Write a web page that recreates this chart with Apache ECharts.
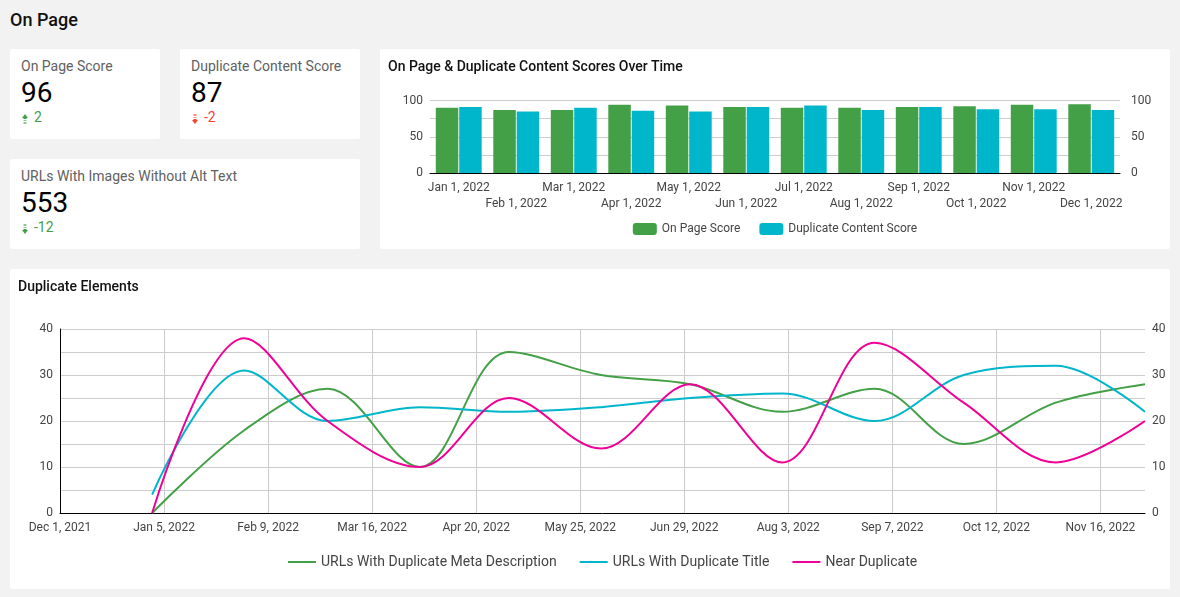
<!DOCTYPE html>
<html>
<head>
    <meta charset="utf-8">
    <style>
        html, body { margin: 0; padding: 0; }
        body {
            width: 1180px;
            height: 597px;
            position: relative;
            overflow: hidden;
            background: #f2f2f2;
            font-family: Roboto, sans-serif;
        }
        .card { position: absolute; background: #fff; border-radius: 2px; }
        .heading { position: absolute; left: 10px; top: 9px; font-size: 18px; line-height: 21px; font-weight: 500; color: #111; }
        .kpi-label { position: absolute; left: 11px; top: 9px; font-size: 14px; line-height: 16px; color: #616161; white-space: nowrap; }
        .kpi-value { position: absolute; left: 11px; top: 27px; font-size: 28px; line-height: 34px; font-weight: 400; color: #000; }
        .kpi-delta { position: absolute; left: 12px; top: 60px; font-size: 14px; line-height: 16px; white-space: nowrap; }
        .kpi-delta svg { width: 6px; height: 10px; margin-right: 6px; vertical-align: -2px; fill: currentColor; }
        .good { color: #43a047; }
        .bad { color: #f44336; }
        .chart-title { position: absolute; font-size: 14px; line-height: 16px; font-weight: 500; color: #111; z-index: 2; }
        .chart { position: absolute; left: 0; top: 0; width: 100%; height: 100%; }
    </style>
</head>
<body>
    <div class="heading">On Page</div>

    <div class="card" style="left:10px;top:49px;width:150px;height:90px">
        <div class="kpi-label">On Page Score</div>
        <div class="kpi-value">96</div>
        <div class="kpi-delta good"><svg viewBox="0 0 6 10"><path d="M3 0L6 4H4.5V5H1.5V4H0Z"/><path opacity="0.6" d="M1.5 6H4.5V7H1.5ZM1.5 8H4.5V10H1.5Z"/></svg>2</div>
    </div>
    <div class="card" style="left:180px;top:49px;width:180px;height:90px">
        <div class="kpi-label">Duplicate Content Score</div>
        <div class="kpi-value">87</div>
        <div class="kpi-delta bad"><svg viewBox="0 0 6 10"><path d="M3 10L0 6H1.5V5H4.5V6H6Z"/><path opacity="0.6" d="M1.5 4H4.5V3H1.5ZM1.5 2H4.5V0H1.5Z"/></svg>-2</div>
    </div>
    <div class="card" style="left:10px;top:159px;width:350px;height:90px">
        <div class="kpi-label">URLs With Images Without Alt Text</div>
        <div class="kpi-value">553</div>
        <div class="kpi-delta good"><svg viewBox="0 0 6 10"><path d="M3 10L0 6H1.5V5H4.5V6H6Z"/><path opacity="0.6" d="M1.5 4H4.5V3H1.5ZM1.5 2H4.5V0H1.5Z"/></svg>-12</div>
    </div>

    <div class="card" style="left:380px;top:49px;width:790px;height:200px">
        <div class="chart-title" style="left:8px;top:9px">On Page &amp; Duplicate Content Scores Over Time</div>
        <div class="chart" id="score-chart"></div>
    </div>
    <div class="card" style="left:10px;top:269px;width:1160px;height:320px">
        <div class="chart-title" style="left:8px;top:9px">Duplicate Elements</div>
        <div class="chart" id="dup-chart"></div>
    </div>

    <script src="https://cdn.jsdelivr.net/npm/echarts@6/dist/echarts.min.js"></script>
    <script>
        // monthly scores
        var scoreMonths = ['Jan 1, 2022', 'Feb 1, 2022', 'Mar 1, 2022', 'Apr 1, 2022', 'May 1, 2022', 'Jun 1, 2022',
            'Jul 1, 2022', 'Aug 1, 2022', 'Sep 1, 2022', 'Oct 1, 2022', 'Nov 1, 2022', 'Dec 1, 2022'];
        var onPageScore = [90, 87, 87, 94, 93, 91, 90, 90, 91, 92, 94, 95];
        var dupContentScore = [91, 85, 90, 86, 85, 91, 93, 87, 91, 88, 88, 87];

        // duplicate elements, same months
        var dupDates = ['2022-01-01', '2022-02-01', '2022-03-01', '2022-04-01', '2022-05-01', '2022-06-01',
            '2022-07-01', '2022-08-01', '2022-09-01', '2022-10-01', '2022-11-01', '2022-12-01'];
        var dupMeta = [0, 18, 27, 10, 35, 30, 28, 22, 27, 15, 24, 28];
        var dupTitle = [4, 31, 20, 23, 22, 23, 25, 26, 20, 30, 32, 22];
        var nearDup = [0, 38, 20, 10, 25, 14, 28, 11, 37, 24, 11, 20];

        var GREEN = '#43a047', TEAL = '#00b6cb', PINK = '#f10096';
        var GRID_COLOR = '#cccccc', LABEL_COLOR = '#444444';
        var FONT = 'Roboto';

        // x axis of the line chart counts days from Dec 1, 2021, ticks every 35 days
        var DAY = 86400000;
        var startDay = Date.UTC(2021, 11, 1);
        var monthNames = ['Jan', 'Feb', 'Mar', 'Apr', 'May', 'Jun', 'Jul', 'Aug', 'Sep', 'Oct', 'Nov', 'Dec'];

        function dayOffset(s) {
            return (Date.parse(s + 'T00:00:00Z') - startDay) / DAY;
        }
        function dayLabel(v) {
            var d = new Date(startDay + v * DAY);
            return monthNames[d.getUTCMonth()] + ' ' + d.getUTCDate() + ', ' + d.getUTCFullYear();
        }
        function pairUp(vals) {
            return vals.map(function (v, i) { return [dayOffset(dupDates[i]), v]; });
        }

        function valueAxis(max, step, position, isLeft, labelMargin) {
            return {
                type: 'value',
                position: position,
                min: 0,
                max: max,
                interval: step,
                axisLine: { show: isLeft, onZero: false, lineStyle: { color: '#000', width: 1 } },
                axisTick: { show: false },
                axisLabel: { color: LABEL_COLOR, fontFamily: FONT, fontSize: 12, margin: labelMargin, padding: [4, 0, 0, 0] },
                splitLine: { show: isLeft, lineStyle: { color: GRID_COLOR } },
                minorTick: { show: false, splitNumber: 2 },
                minorSplitLine: { show: isLeft, lineStyle: { color: GRID_COLOR } }
            };
        }

        var scoreChart = echarts.init(document.getElementById('score-chart'));
        var scoreLeft = valueAxis(100, 50, 'left', true, 7);
        scoreLeft.axisLine.show = false;
        scoreChart.setOption({
            animation: false,
            grid: { left: 50, right: 50, top: 51.5, height: 72.5 },
            legend: {
                bottom: 9,
                left: 'center',
                itemWidth: 24,
                itemHeight: 12,
                itemGap: 19,
                textStyle: { color: LABEL_COLOR, fontFamily: FONT, fontSize: 12 }
            },
            xAxis: {
                type: 'category',
                data: scoreMonths,
                axisLine: { lineStyle: { color: '#000', width: 1 } },
                axisTick: { show: false },
                axisLabel: {
                    interval: 0,
                    color: LABEL_COLOR,
                    fontFamily: FONT,
                    fontSize: 12,
                    lineHeight: 16,
                    margin: 7,
                    // staggered on two rows
                    formatter: function (v, i) { return i % 2 ? '\n' + v : v; }
                }
            },
            yAxis: [scoreLeft, valueAxis(100, 50, 'right', false, 11)],
            series: [
                { name: 'On Page Score', type: 'bar', data: onPageScore, barWidth: 22.5, barGap: '4%', itemStyle: { color: GREEN } },
                { name: 'Duplicate Content Score', type: 'bar', data: dupContentScore, barWidth: 22.5, itemStyle: { color: TEAL } }
            ]
        });

        var dupChart = echarts.init(document.getElementById('dup-chart'));
        function lineSeries(name, vals, color) {
            return {
                name: name,
                type: 'line',
                data: pairUp(vals),
                smooth: 0.35,
                symbol: 'none',
                lineStyle: { color: color, width: 2 },
                itemStyle: { color: color }
            };
        }
        dupChart.setOption({
            animation: false,
            grid: { left: 50, right: 25, top: 60, height: 184 },
            legend: {
                bottom: 15,
                left: 273,
                icon: 'rect',
                itemWidth: 28,
                itemHeight: 2,
                itemGap: 23,
                textStyle: { color: LABEL_COLOR, fontFamily: FONT, fontSize: 14 }
            },
            xAxis: {
                type: 'value',
                min: 0,
                max: 365,
                interval: 35,
                axisLine: { onZero: false, lineStyle: { color: '#000', width: 1 } },
                axisTick: { show: false },
                axisLabel: {
                    color: LABEL_COLOR,
                    fontFamily: FONT,
                    fontSize: 12,
                    margin: 9,
                    showMaxLabel: false,
                    formatter: dayLabel
                },
                splitLine: { show: true, showMinLine: false, showMaxLine: false, lineStyle: { color: GRID_COLOR } }
            },
            yAxis: [valueAxis(40, 10, 'left', true, 7), valueAxis(40, 10, 'right', false, 7)],
            series: [
                lineSeries('URLs With Duplicate Meta Description', dupMeta, GREEN),
                lineSeries('URLs With Duplicate Title', dupTitle, TEAL),
                lineSeries('Near Duplicate', nearDup, PINK)
            ]
        });
    </script>
</body>
</html>
